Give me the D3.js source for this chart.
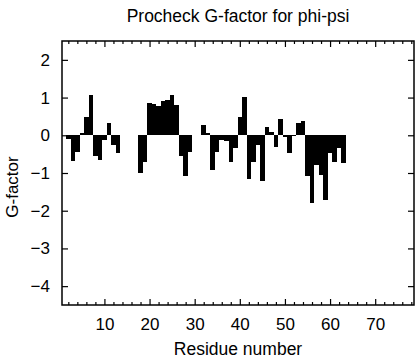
<!DOCTYPE html>
<html>
<head>
<meta charset="utf-8">
<script src="https://cdn.jsdelivr.net/npm/d3@7"></script>
<style>
  html, body { margin: 0; padding: 0; background: #fff; }
  svg { display: block; font-family: "Liberation Sans", Arial, Helvetica, sans-serif; }
</style>
</head>
<body>
<svg id="chart" width="416" height="360"></svg>
<script>
// ---- data ----
const residues = d3.range(1, 64);
const gfactor = [
  null, -0.10, -0.68, -0.45, 0.05, 0.49, 1.07, -0.56, -0.65, -0.12,
  0.32, -0.26, -0.46, null, null, null, null, -1.00, -0.70, 0.85,
  0.82, 0.78, 0.90, 0.94, 1.07, 0.81, -0.54, -1.09, -0.43, null,
  null, 0.26, 0.05, -0.93, -0.43, -0.12, -0.15, -0.70, -0.34, 0.48,
  1.01, -1.16, -0.72, -0.25, -1.22, 0.23, 0.08, -0.30, 0.43, -0.04,
  -0.47, -0.02, 0.32, 0.37, -1.09, -1.80, -0.78, -1.05, -1.71, -0.47,
  -0.72, -0.34, -0.74
];
const xMajorTicks = [10, 20, 30, 40, 50, 60, 70];
const xMinorTicks = d3.range(2, 79, 2).filter(v => v % 10 !== 0);
const yTicks = [-4, -3, -2, -1, 0, 1, 2];
const titleText = "Procheck G-factor for phi-psi";
const xLabel = "Residue number";
const yLabel = "G-factor";

// ---- layout ----
const L = 62, R = 414, T = 41, B = 305;
const svg = d3.select("#chart");
const x = d3.scaleLinear().domain([0.6, 78.6]).range([L, R]);
const y = d3.scaleLinear().domain([-4.5, 2.5]).range([B, T]);

const data = residues.map((r, i) => ({ r, v: gfactor[i] })).filter(d => d.v !== null);

// bars
svg.append("g").selectAll("rect").data(data).join("rect")
  .attr("x", d => x(d.r - 0.5))
  .attr("width", d => x(d.r + 0.5) - x(d.r - 0.5))
  .attr("y", d => y(Math.max(0, d.v)))
  .attr("height", d => Math.abs(y(d.v) - y(0)))
  .attr("fill", "#000")
  .attr("shape-rendering", "crispEdges");

// axes
function styleAxis(g) {
  g.select(".domain").remove();
  g.selectAll("line").attr("stroke", "#000").attr("stroke-width", 1.2);
  g.selectAll("text").attr("font-size", 17).attr("fill", "#000")
    .attr("font-family", "'Liberation Sans', Arial, Helvetica, sans-serif");
}
svg.append("g").attr("transform", `translate(0,${B})`)
  .call(d3.axisBottom(x).tickValues(xMajorTicks).tickSize(-6).tickPadding(13).tickFormat(d3.format("d")))
  .call(styleAxis);
svg.append("g").attr("transform", `translate(0,${B})`)
  .call(d3.axisBottom(x).tickValues(xMinorTicks).tickSize(-3).tickFormat(""))
  .call(styleAxis);
svg.append("g").attr("transform", `translate(0,${T})`)
  .call(d3.axisTop(x).tickValues(xMajorTicks).tickSize(-6).tickFormat(""))
  .call(styleAxis);
svg.append("g").attr("transform", `translate(0,${T})`)
  .call(d3.axisTop(x).tickValues(xMinorTicks).tickSize(-3).tickFormat(""))
  .call(styleAxis);
svg.append("g").attr("transform", `translate(${L},0)`)
  .call(d3.axisLeft(y).tickValues(yTicks).tickSize(-6).tickPadding(12).tickFormat(d3.format("d")))
  .call(styleAxis);
svg.append("g").attr("transform", `translate(${R},0)`)
  .call(d3.axisRight(y).tickValues(yTicks).tickSize(-6).tickFormat(""))
  .call(styleAxis);

// frame
svg.append("rect").attr("x", L).attr("y", T).attr("width", R - L).attr("height", B - T)
  .attr("fill", "none").attr("stroke", "#000").attr("stroke-width", 1.5);

// texts
svg.append("text").attr("x", (L + R) / 2).attr("y", 22).attr("text-anchor", "middle")
  .attr("font-size", 17.5).text(titleText);
svg.append("text").attr("x", (L + R) / 2).attr("y", 355).attr("text-anchor", "middle")
  .attr("font-size", 17.5).text(xLabel);
svg.append("text").attr("transform", `translate(18,187) rotate(-90)`).attr("text-anchor", "middle")
  .attr("font-size", 17).text(yLabel);
</script>
</body>
</html>
